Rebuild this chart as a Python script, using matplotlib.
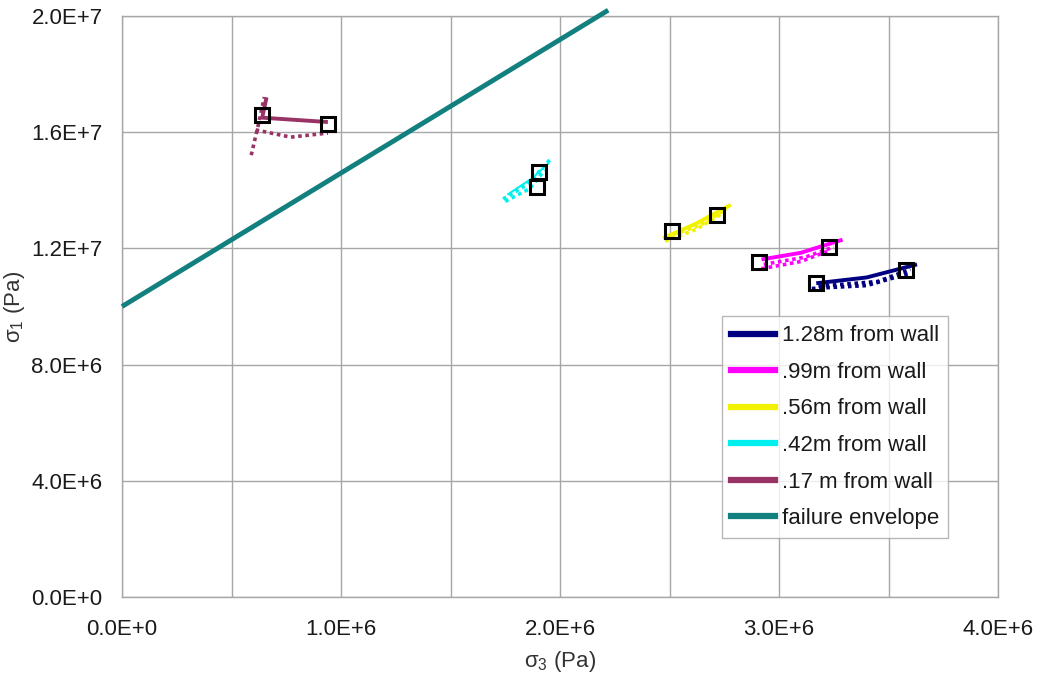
import matplotlib
matplotlib.use("Agg")
import matplotlib.pyplot as plt
from matplotlib.lines import Line2D

plt.rcParams["font.family"] = ["Liberation Sans", "DejaVu Sans"]
plt.rcParams["mathtext.fontset"] = "custom"
plt.rcParams["mathtext.rm"] = "Liberation Sans"
plt.rcParams["mathtext.it"] = "Liberation Sans"

# ---- stress paths (sigma3, sigma1 in Pa) ----
# 1.28 m from wall
w128_solid_s3 = [3.17e6, 3.40e6, 3.63e6]
w128_solid_s1 = [10.80e6, 11.00e6, 11.45e6]
w128_dot1_s3 = [3.15e6, 3.40e6, 3.60e6]
w128_dot1_s1 = [10.62e6, 10.72e6, 11.15e6]
w128_dot2_s3 = [3.18e6, 3.45e6, 3.60e6]
w128_dot2_s1 = [10.70e6, 10.86e6, 11.28e6]
w128_ends_s3 = [3.17e6, 3.58e6]
w128_ends_s1 = [10.80e6, 11.26e6]

# .99 m from wall
w99_solid_s3 = [2.92e6, 3.10e6, 3.29e6]
w99_solid_s1 = [11.62e6, 11.85e6, 12.30e6]
w99_dot1_s3 = [2.92e6, 3.10e6, 3.22e6]
w99_dot1_s1 = [11.30e6, 11.55e6, 11.90e6]
w99_dot2_s3 = [2.93e6, 3.12e6, 3.25e6]
w99_dot2_s1 = [11.45e6, 11.70e6, 12.05e6]
w99_ends_s3 = [2.91e6, 3.23e6]
w99_ends_s1 = [11.54e6, 12.06e6]

# .56 m from wall
w56_solid_s3 = [2.47e6, 2.62e6, 2.78e6]
w56_solid_s1 = [12.35e6, 12.85e6, 13.50e6]
w56_dot1_s3 = [2.48e6, 2.62e6, 2.74e6]
w56_dot1_s1 = [12.25e6, 12.65e6, 13.20e6]
w56_dot2_s3 = [2.49e6, 2.64e6, 2.76e6]
w56_dot2_s1 = [12.40e6, 12.80e6, 13.35e6]
w56_ends_s3 = [2.51e6, 2.716e6]
w56_ends_s1 = [12.61e6, 13.15e6]

# .42 m from wall
w42_solid_s3 = [1.76e6, 1.87e6, 1.95e6]
w42_solid_s1 = [13.85e6, 14.40e6, 14.95e6]
w42_dot1_s3 = [1.74e6, 1.85e6, 1.96e6]
w42_dot1_s1 = [13.70e6, 14.20e6, 15.10e6]
w42_dot2_s3 = [1.75e6, 1.86e6, 1.93e6]
w42_dot2_s1 = [13.62e6, 14.05e6, 14.70e6]
w42_ends_s3 = [1.904e6, 1.895e6]
w42_ends_s1 = [14.62e6, 14.10e6]

# .17 m from wall
w17_solid_s3 = [0.66e6, 0.64e6, 0.94e6]
w17_solid_s1 = [17.20e6, 16.50e6, 16.35e6]
w17_dot1_s3 = [0.59e6, 0.62e6, 0.65e6]
w17_dot1_s1 = [15.21e6, 16.18e6, 17.21e6]
w17_dot2_s3 = [0.61e6, 0.77e6, 0.94e6]
w17_dot2_s1 = [16.08e6, 15.83e6, 15.97e6]
w17_ends_s3 = [0.639e6, 0.941e6]
w17_ends_s1 = [16.59e6, 16.28e6]

# Mohr-Coulomb failure envelope
env_s3 = [0.0, 2.22e6]
env_s1 = [1.0e7, 2.02e7]

labels = ["1.28m from wall", ".99m from wall", ".56m from wall",
          ".42m from wall", ".17 m from wall", "failure envelope"]
colors = ["#000080", "#ff00ff", "#f2f200", "#00f0f0", "#993366", "#12807e"]

x_ticks = [0, 1e6, 2e6, 3e6, 4e6]
x_tick_labels = ["0.0E+0", "1.0E+6", "2.0E+6", "3.0E+6", "4.0E+6"]
y_ticks = [0, 4e6, 8e6, 12e6, 16e6, 20e6]
y_tick_labels = ["0.0E+0", "4.0E+6", "8.0E+6", "1.2E+7", "1.6E+7", "2.0E+7"]

fig = plt.figure(figsize=(10.42, 6.87), dpi=100)
ax = fig.add_axes([0.1171, 0.131, 0.8407, 0.8457])

series = [
    (w128_solid_s3, w128_solid_s1, w128_dot1_s3, w128_dot1_s1,
     w128_dot2_s3, w128_dot2_s1, w128_ends_s3, w128_ends_s1),
    (w99_solid_s3, w99_solid_s1, w99_dot1_s3, w99_dot1_s1,
     w99_dot2_s3, w99_dot2_s1, w99_ends_s3, w99_ends_s1),
    (w56_solid_s3, w56_solid_s1, w56_dot1_s3, w56_dot1_s1,
     w56_dot2_s3, w56_dot2_s1, w56_ends_s3, w56_ends_s1),
    (w42_solid_s3, w42_solid_s1, w42_dot1_s3, w42_dot1_s1,
     w42_dot2_s3, w42_dot2_s1, w42_ends_s3, w42_ends_s1),
    (w17_solid_s3, w17_solid_s1, w17_dot1_s3, w17_dot1_s1,
     w17_dot2_s3, w17_dot2_s1, w17_ends_s3, w17_ends_s1),
]

for (ss3, ss1, d1s3, d1s1, d2s3, d2s1, es3, es1), c in zip(series, colors):
    solid_lw = 1.5 if c == "#00f0f0" else 2.8
    ax.plot(ss3, ss1, color=c, lw=solid_lw, solid_capstyle="butt", zorder=3)
    ax.plot(d1s3, d1s1, color=c, lw=2.6, linestyle=(0, (1, 1)), zorder=3)
    ax.plot(d2s3, d2s1, color=c, lw=2.6, linestyle=(0, (1, 1)), zorder=3)
    ax.plot(es3, es1, linestyle="none", marker="s", markersize=9.5,
            markerfacecolor="none", markeredgecolor="black",
            markeredgewidth=2.2, zorder=5)

ax.plot(env_s3, env_s1, color=colors[5], lw=3.5, solid_capstyle="butt",
        clip_on=False, zorder=4)

ax.set_xlim(0, 4e6)
ax.set_ylim(0, 2e7)
ax.set_xticks(x_ticks)
ax.set_xticklabels(x_tick_labels)
ax.set_yticks(y_ticks)
ax.set_yticklabels(y_tick_labels)
ax.set_xticks([0.5e6, 1.5e6, 2.5e6, 3.5e6], minor=True)
ax.grid(True, which="both", axis="x", color="#a6a6a6", lw=1.0)
ax.grid(True, which="major", axis="y", color="#a6a6a6", lw=1.0)
ax.set_axisbelow(True)
ax.tick_params(axis="both", which="both", length=0, labelsize=16,
               colors="#1a1a1a")
ax.tick_params(axis="x", pad=16)
ax.tick_params(axis="y", pad=14)
for sp in ax.spines.values():
    sp.set_color("#a6a6a6")
    sp.set_linewidth(1.0)

ax.set_xlabel("σ$_3$ (Pa)", fontsize=16, color="#333333", labelpad=6)
ax.set_ylabel("σ$_1$ (Pa)", fontsize=16, color="#333333", labelpad=3)

handles = [Line2D([0], [0], color=c, lw=4.5) for c in colors]
leg = ax.legend(handles, labels, loc="lower right",
                bbox_to_anchor=(0.943, 0.1015), fontsize=16,
                frameon=True, fancybox=False, edgecolor="#a6a6a6",
                handlelength=2.0, handletextpad=0.3, labelspacing=0.70,
                borderpad=0.4, borderaxespad=0.0)
leg.get_frame().set_linewidth(1.0)
for t in leg.get_texts():
    t.set_color("#1a1a1a")

fig.savefig("out.png", dpi=100)
